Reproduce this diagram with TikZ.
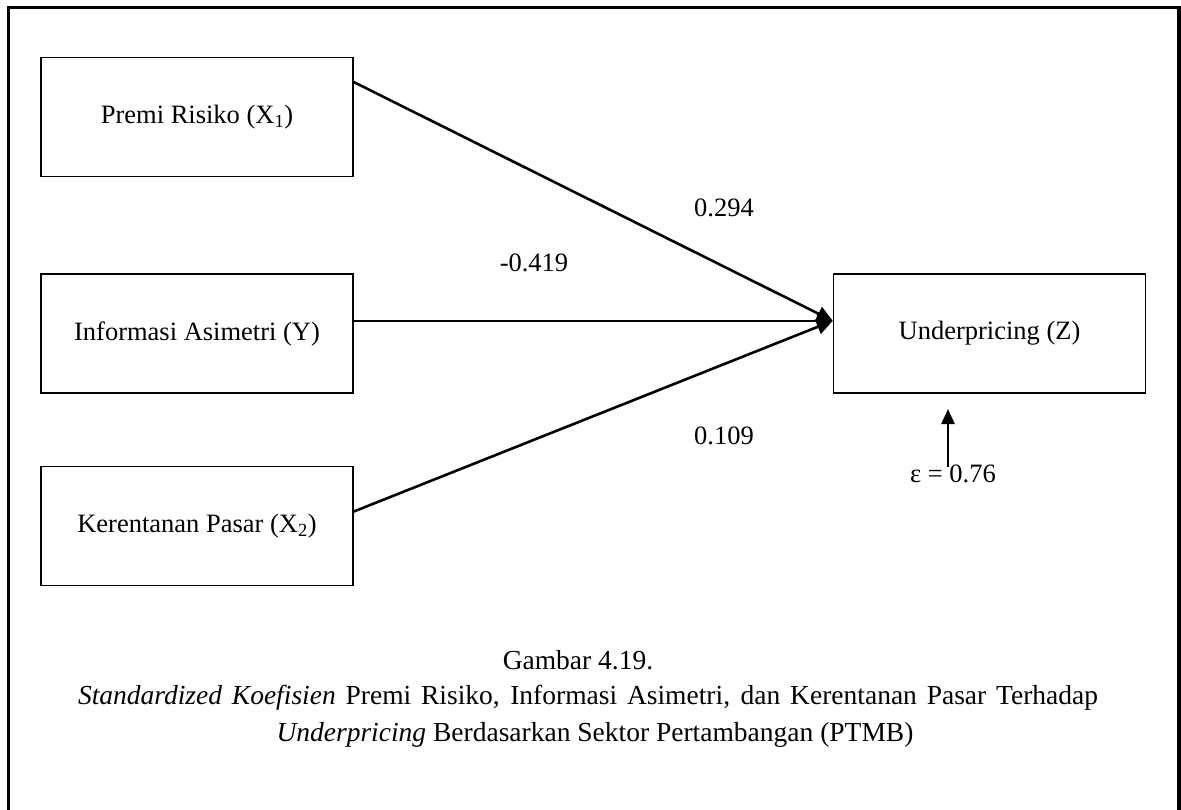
\documentclass[tikz,border=0pt]{standalone}
\usepackage{fontspec}
\setmainfont{Liberation Serif}
\usetikzlibrary{arrows.meta,calc}
\begin{document}
\begin{tikzpicture}[x=1pt,y=-1pt,
  font=\fontsize{26.5}{32}\selectfont,
  varbox/.style={draw,line width=1.5pt,rectangle,minimum width=312pt,minimum height=119pt,inner sep=0pt},
  path/.style={line width=2.6pt,-{Triangle[length=16pt,width=15pt]}},
  coef/.style={inner sep=0pt,anchor=center},
  captext/.style={inner sep=0pt,anchor=center,font=\fontsize{27.5}{33}\selectfont}]
\useasboundingbox (0,0) rectangle (1181,810);
% outer frame (its lower edge lies below the page)
\draw[line width=3.5pt] (8.5,7.5) rectangle (1179,840);

% variables
\node[varbox] (x1) at (197,117) {Premi Risiko (X\textsubscript{1})};
\node[varbox] (y)  at (197,333.5) {Informasi Asimetri (Y)};
\node[varbox] (x2) at (197,526) {Kerentanan Pasar (X\textsubscript{2})};
\node[varbox] (z)  at (989.5,333.5) {Underpricing (Z)};

% path end points on the box borders
\coordinate (tip) at ($(z.north west)!0.395!(z.south west)$);
\coordinate (s1) at ($(x1.north east)!0.21!(x1.south east)$);
\coordinate (s3) at ($(x2.north east)!0.38!(x2.south east)$);

\draw[path] (s1) -- (tip);
\draw[path] (y.east |- tip) -- (tip);
\draw[path] (s3) -- (tip);

% standardized coefficients
\node[coef] (c1) at (724,208) {0.294};
\node[coef] (c2) at (534,263) {-0.419};
\node[coef] (c3) at (724,436) {0.109};

% error term
\node[coef] (eps) at (953,474) {ε = 0.76};
\coordinate (e0) at (948,467);
\draw[line width=2.4pt,-{Triangle[length=15pt,width=13pt]}] (e0) -- (948,409);

% caption
\node[captext] (cap1) at (578,660) {Gambar 4.19.};
\node[captext] (cap2) at (588,698) {\makebox[1020pt][s]{\textit{Standardized Koefisien} Premi Risiko, Informasi Asimetri, dan Kerentanan Pasar Terhadap}};
\node[captext] (cap3) at (595,735) {\textit{Underpricing} Berdasarkan Sektor Pertambangan (PTMB)};
\end{tikzpicture}
\end{document}
